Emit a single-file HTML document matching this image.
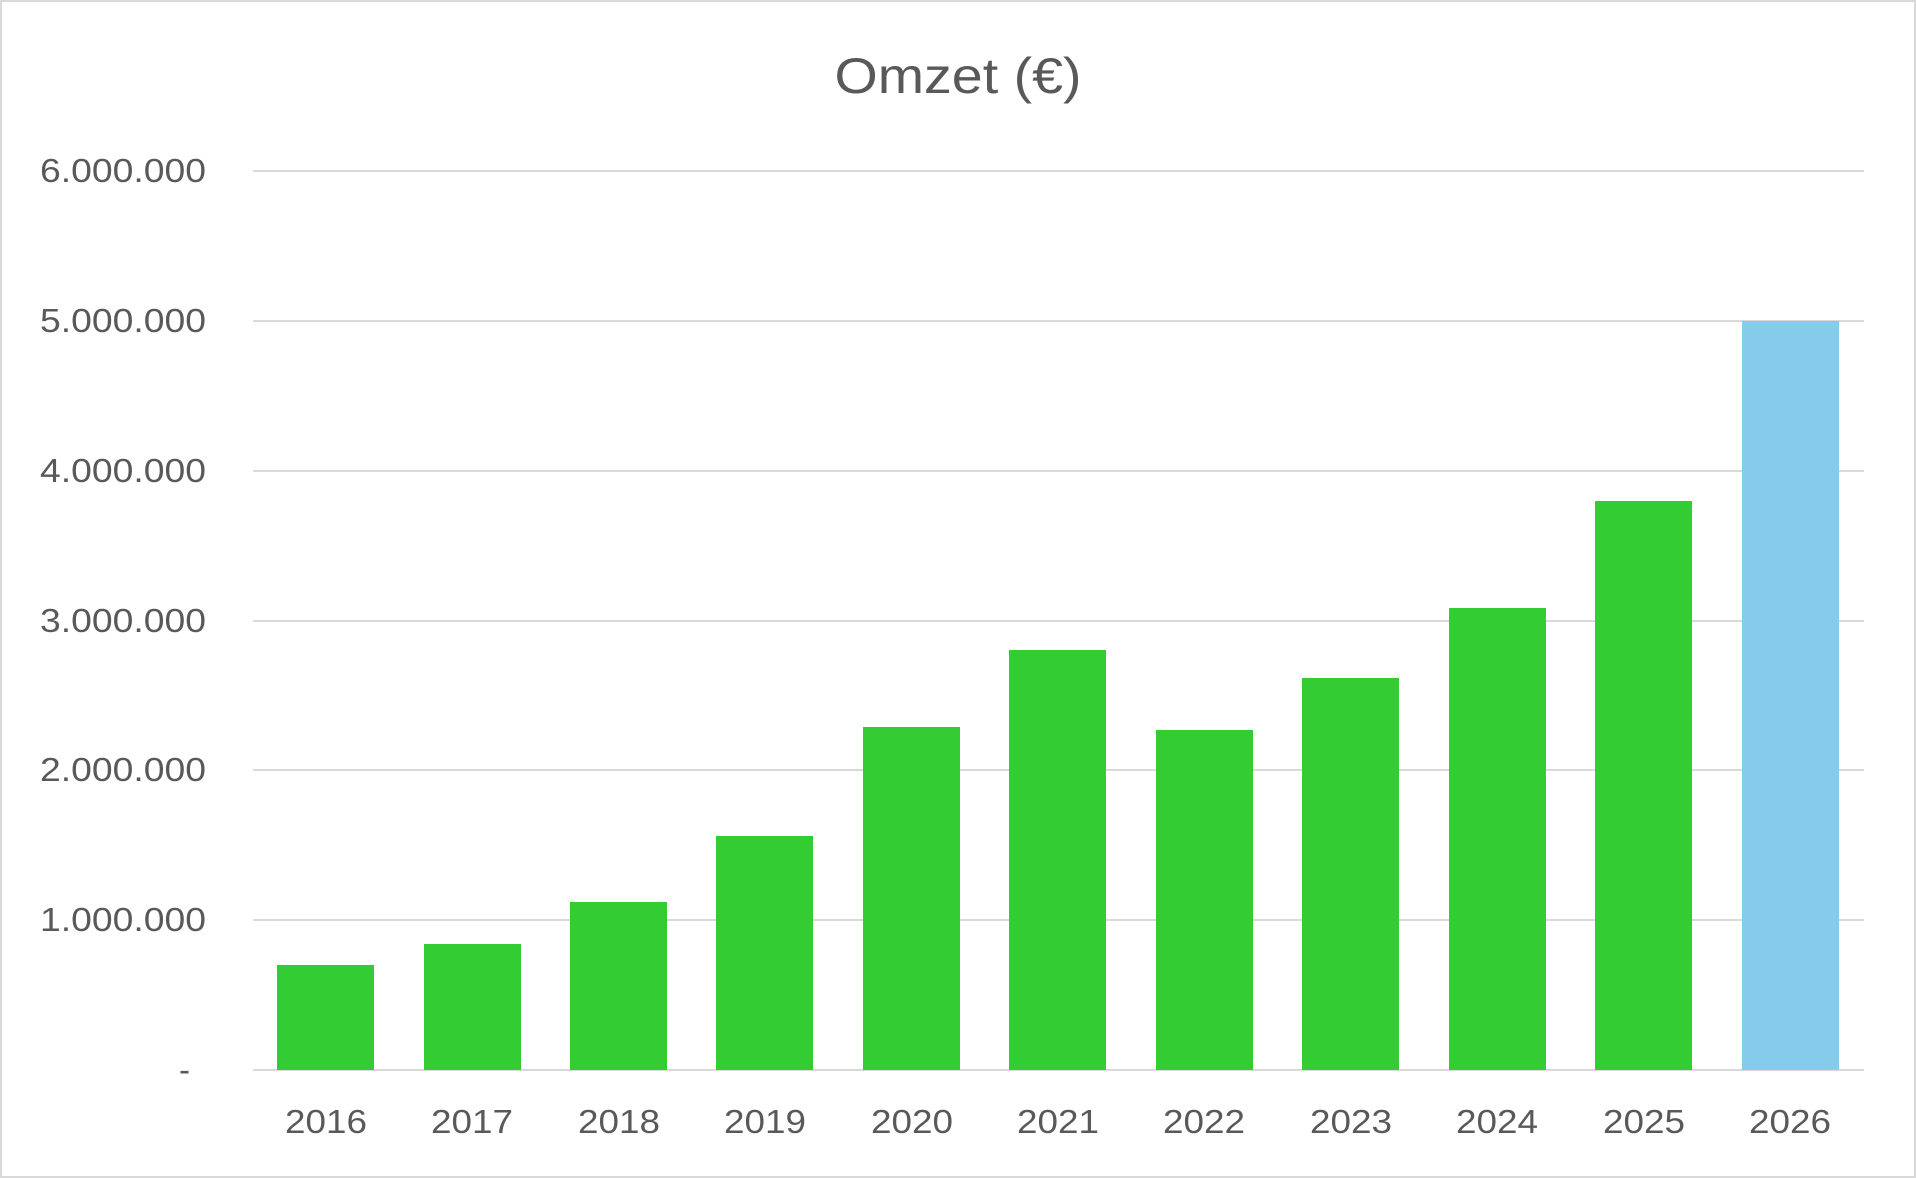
<!DOCTYPE html>
<html><head><meta charset="utf-8"><style>
html,body{margin:0;padding:0;background:#fff;}
svg{display:block;}
text{font-family:"Liberation Sans",sans-serif;fill:#595959;}
</style></head><body>
<svg width="1916" height="1178" viewBox="0 0 1916 1178" xmlns="http://www.w3.org/2000/svg">
<rect x="1" y="1" width="1914" height="1176" fill="#fff" stroke="#d9d9d9" stroke-width="2"/>
<text x="958" y="93" font-size="50" text-anchor="middle" textLength="247" lengthAdjust="spacingAndGlyphs">Omzet (€)</text>
<g stroke="#d9d9d9" stroke-width="2">
<line x1="253" x2="1864" y1="171" y2="171"/>
<line x1="253" x2="1864" y1="321" y2="321"/>
<line x1="253" x2="1864" y1="471" y2="471"/>
<line x1="253" x2="1864" y1="621" y2="621"/>
<line x1="253" x2="1864" y1="770" y2="770"/>
<line x1="253" x2="1864" y1="920" y2="920"/>
<line x1="253" x2="1864" y1="1070" y2="1070"/>
</g>
<g font-size="33" text-anchor="end">
<text x="206" y="182" textLength="166" lengthAdjust="spacingAndGlyphs">6.000.000</text>
<text x="206" y="332" textLength="166" lengthAdjust="spacingAndGlyphs">5.000.000</text>
<text x="206" y="482" textLength="166" lengthAdjust="spacingAndGlyphs">4.000.000</text>
<text x="206" y="632" textLength="166" lengthAdjust="spacingAndGlyphs">3.000.000</text>
<text x="206" y="781" textLength="166" lengthAdjust="spacingAndGlyphs">2.000.000</text>
<text x="206" y="931" textLength="166" lengthAdjust="spacingAndGlyphs">1.000.000</text>
<text x="190" y="1081">-</text>
</g>
<g fill="#33cc33">
<rect x="277" y="965" width="97" height="105"/>
<rect x="424" y="944" width="97" height="126"/>
<rect x="570" y="902" width="97" height="168"/>
<rect x="716" y="836" width="97" height="234"/>
<rect x="863" y="727" width="97" height="343"/>
<rect x="1009" y="650" width="97" height="420"/>
<rect x="1156" y="730" width="97" height="340"/>
<rect x="1302" y="678" width="97" height="392"/>
<rect x="1449" y="608" width="97" height="462"/>
<rect x="1595" y="501" width="97" height="569"/>
</g>
<rect x="1742" y="321" width="97" height="749" fill="#85cbea"/>
<g font-size="33" text-anchor="middle">
<text x="326" y="1133" textLength="82" lengthAdjust="spacingAndGlyphs">2016</text>
<text x="472" y="1133" textLength="82" lengthAdjust="spacingAndGlyphs">2017</text>
<text x="619" y="1133" textLength="82" lengthAdjust="spacingAndGlyphs">2018</text>
<text x="765" y="1133" textLength="82" lengthAdjust="spacingAndGlyphs">2019</text>
<text x="912" y="1133" textLength="82" lengthAdjust="spacingAndGlyphs">2020</text>
<text x="1058" y="1133" textLength="82" lengthAdjust="spacingAndGlyphs">2021</text>
<text x="1204" y="1133" textLength="82" lengthAdjust="spacingAndGlyphs">2022</text>
<text x="1351" y="1133" textLength="82" lengthAdjust="spacingAndGlyphs">2023</text>
<text x="1497" y="1133" textLength="82" lengthAdjust="spacingAndGlyphs">2024</text>
<text x="1644" y="1133" textLength="82" lengthAdjust="spacingAndGlyphs">2025</text>
<text x="1790" y="1133" textLength="82" lengthAdjust="spacingAndGlyphs">2026</text>
</g>
</svg>
</body></html>
